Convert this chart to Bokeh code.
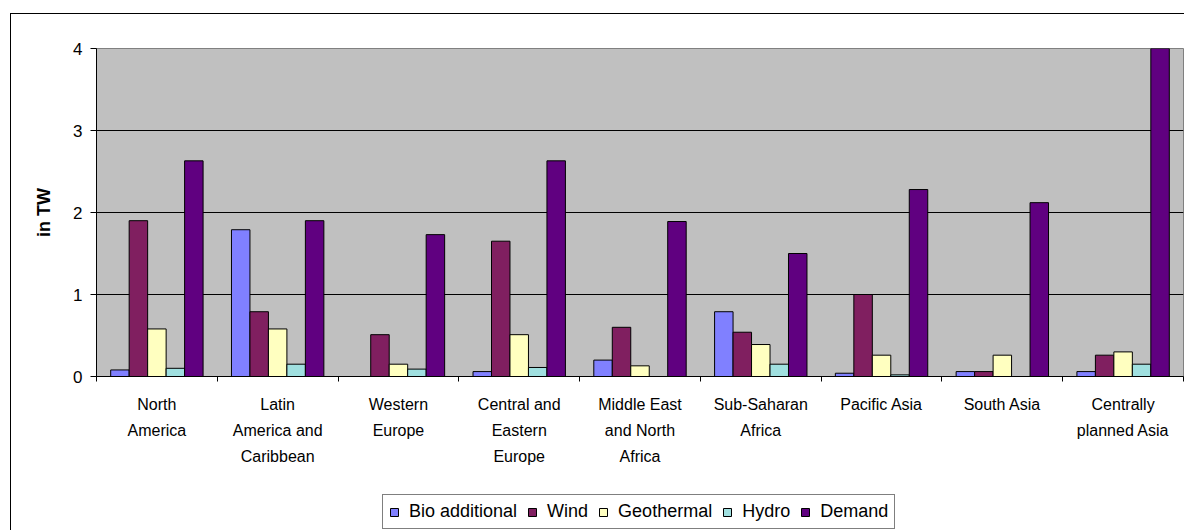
import numpy as np
from bokeh.plotting import figure
from bokeh.layouts import column
from bokeh.models import (ColumnDataSource, FixedTicker, Legend, LegendItem,
                          Range1d)
from bokeh.transform import dodge
from bokeh.embed import file_html
from bokeh.resources import INLINE

regions = ["North\nAmerica", "Latin\nAmerica and\nCaribbean", "Western\nEurope",
           "Central and\nEastern\nEurope", "Middle East\nand North\nAfrica",
           "Sub-Saharan\nAfrica", "Pacific Asia", "South Asia",
           "Centrally\nplanned Asia"]
bio = [0.08, 1.79, 0.0, 0.06, 0.20, 0.79, 0.04, 0.06, 0.06]
wind = [1.90, 0.79, 0.51, 1.65, 0.60, 0.54, 1.00, 0.06, 0.26]
geothermal = [0.58, 0.58, 0.15, 0.51, 0.13, 0.39, 0.26, 0.26, 0.30]
hydro = [0.10, 0.15, 0.09, 0.11, 0.0, 0.15, 0.02, 0.0, 0.15]
demand = [2.63, 1.90, 1.73, 2.63, 1.89, 1.50, 2.28, 2.12, 4.02]
series_names = ["Bio additional", "Wind", "Geothermal", "Hydro", "Demand"]
series_colors = ["#8080FF", "#801F60", "#FFFFC0", "#A0E0E0", "#600080"]
y_ticks = [0, 1, 2, 3, 4]

FONT = "Liberation Sans"
n = len(regions)
centers = list(np.arange(n) + 0.5)

src = ColumnDataSource(dict(x=centers, bio=bio, wind=wind, geo=geothermal,
                            hydro=hydro, demand=demand))
cols = ["bio", "wind", "geo", "hydro", "demand"]

p = figure(width=1174, height=481, output_backend="svg", toolbar_location=None,
           x_range=Range1d(0, n), y_range=Range1d(0, 4),
           min_border_left=85, min_border_right=2, min_border_top=34,
           min_border_bottom=119)
p.margin = (13, 0, 0, 10)
p.styles = {"border-left": "1px solid black", "border-top": "1px solid black"}
p.background_fill_color = "#C0C0C0"
p.border_fill_color = "white"
p.outline_line_color = "#808080"
p.outline_line_width = 1

bw = 0.153
for j, (c, color) in enumerate(zip(cols, series_colors)):
    p.vbar(x=dodge("x", (j - 2) * bw, range=p.x_range), top=c, width=bw,
           bottom=0, source=src, fill_color=color, line_color="black",
           line_width=1)

p.xgrid.visible = False
p.ygrid.ticker = FixedTicker(ticks=[1, 2, 3])
p.ygrid.grid_line_color = "black"
p.ygrid.grid_line_width = 1

xa = p.xaxis[0]
xa.ticker = FixedTicker(ticks=centers, minor_ticks=list(range(n + 1)))
xa.major_label_overrides = {c: lab for c, lab in zip(centers, regions)}
xa.major_tick_out = 0
xa.major_tick_in = 0
xa.minor_tick_out = 5
xa.minor_tick_in = 0
xa.minor_tick_line_color = "black"
xa.axis_line_color = "black"
xa.major_label_text_font = FONT
xa.major_label_text_font_size = "16px"
xa.major_label_text_color = "black"
xa.major_label_text_line_height = 1.55
xa.major_label_standoff = 14
xa.major_label_orientation = "horizontal"

ya = p.yaxis[0]
ya.ticker = FixedTicker(ticks=y_ticks)
ya.major_tick_out = 6
ya.major_tick_in = 0
ya.minor_tick_line_color = None
ya.axis_line_color = "black"
ya.major_label_text_font = FONT
ya.major_label_text_font_size = "17px"
ya.major_label_text_color = "black"
ya.major_label_standoff = 8
ya.axis_label = "in TW"
ya.axis_label_text_font = FONT
ya.axis_label_text_font_size = "18px"
ya.axis_label_text_font_style = "bold"
ya.axis_label_text_color = "black"
ya.axis_label_standoff = 16

# legend strip (part of the same chart box)
lg = figure(width=1174, height=36, output_backend="svg", toolbar_location=None,
            x_range=Range1d(0, 1), y_range=Range1d(0, 1),
            min_border_left=0, min_border_right=0, min_border_top=0,
            min_border_bottom=0)
lg.margin = (0, 0, 0, 10)
lg.styles = {"border-left": "1px solid black"}
lg.axis.visible = False
lg.grid.visible = False
lg.outline_line_color = None
lg.background_fill_color = "white"
lg.border_fill_color = "white"
items = []
for c, name, color in zip(cols, series_names, series_colors):
    r = lg.vbar(x="x", top=c, width=0.1, source=src, fill_color=color,
                line_color="black", line_width=1, visible=False)
    items.append(LegendItem(label=name, renderers=[r]))

legend = Legend(items=items, orientation="horizontal", location=(286, 1),
                glyph_width=10, glyph_height=10, label_height=16,
                label_text_font=FONT, label_text_font_size="18px",
                label_text_color="black", label_standoff=10, spacing=10,
                padding=6, margin=0, border_line_color="black",
                border_line_width=1, background_fill_color="white",
                background_fill_alpha=1, inactive_fill_alpha=0)
lg.add_layout(legend, "center")

layout = column(p, lg, spacing=0)
open("out.html", "w").write(file_html(layout, INLINE))
